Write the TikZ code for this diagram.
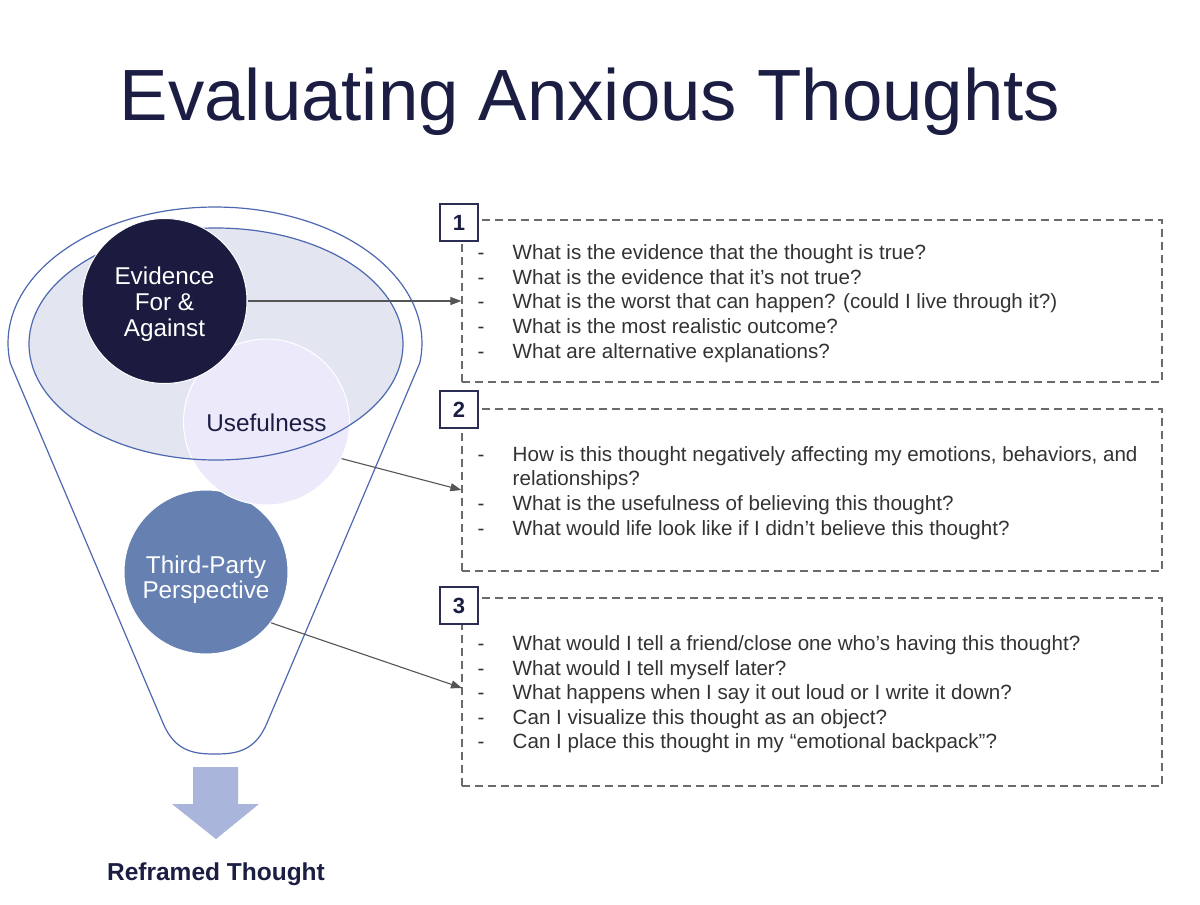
\documentclass[tikz,border=0pt]{standalone}
\usepackage{fontspec}
\setmainfont{Liberation Sans}
\usetikzlibrary{arrows.meta,calc}
\definecolor{navy}{HTML}{1B1D43}
\definecolor{evfill}{HTML}{1A1B3E}
\definecolor{ellfill}{HTML}{E3E6F1}
\definecolor{funblue}{HTML}{4D68B0}
\definecolor{usefill}{HTML}{ECE9FA}
\definecolor{tpfill}{HTML}{6580B1}
\definecolor{arrfill}{HTML}{A9B5DA}
\definecolor{qgray}{HTML}{333333}
\definecolor{congray}{HTML}{555555}
\definecolor{dashgray}{HTML}{6A6A6A}
\definecolor{numborder}{HTML}{2B2E50}
\begin{document}
\begin{tikzpicture}[x=1pt,y=-1pt,
  funnelline/.style={draw=funblue,line width=1.2pt},
  bubble/.style={circle,inner sep=0pt,draw=white,line width=1pt},
  bubbletext/.style={font=\fontsize{24.3}{26.2}\selectfont,align=center,inner sep=0pt},
  qtext/.style={font=\fontsize{20.6}{24}\selectfont,text=qgray,anchor=base west,inner sep=0pt},
  dbox/.style={draw=dashgray,line width=1.2pt,dash pattern=on 8pt off 5pt,minimum width=700pt,inner sep=0pt},
  numbox/.style={draw=numborder,fill=white,line width=1.5pt,minimum width=38pt,minimum height=37pt,inner sep=0pt,font=\bfseries\fontsize{22}{22}\selectfont,text=navy},
  connector/.style={draw=congray,line width=1.1pt,-{Triangle[length=11pt,width=8pt]}}
]
\useasboundingbox (0,0) rectangle (1200,905);
\fill[white] (0,0) rectangle (1200,905);

% title
\node[font=\fontsize{72.6}{80}\selectfont,text=navy,anchor=base,inner sep=0pt] (title) at (590,120) {Evaluating Anxious Thoughts};

% funnel outline
\draw[funnelline] plot[domain=-8.5:188.5,samples=90] ({215+207*cos(\x)},{343-136*sin(\x)})
  -- (163,723) .. controls (175,752) and (195,754) .. (215,754)
  .. controls (235,754) and (255,752) .. (267,723) -- cycle;

% inner ellipse fill
\fill[ellfill] (216,344) ellipse [x radius=187pt, y radius=116pt];

% circles
\node[bubble,fill=tpfill,minimum size=164pt] (tp) at (206,572) {};
\node[bubble,fill=usefill,minimum size=166pt] (use) at (266.5,422) {};
\draw[funnelline] (216,344) ellipse [x radius=187pt, y radius=116pt];
\node[bubble,fill=evfill,minimum size=165pt] (ev) at (164.5,301) {};

\node[bubbletext,text=white] (evt) at (164.5,304) {Evidence\\For \&\\Against};
\node[bubbletext,text=navy] (uset) at (266.5,423) {Usefulness};
\node[bubbletext,text=white,font=\fontsize{24.3}{25.3}\selectfont] (tpt) at (206,580) {Third-Party\\Perspective};

% down arrow
\fill[arrfill] (193,767) -- (238,767) -- (238,804) -- (259,804) -- (216,839) -- (172,804) -- (193,804) -- cycle;
\node[font=\bfseries\fontsize{24.5}{26}\selectfont,text=navy,anchor=base,inner sep=0pt] (reframed) at (216,880) {Reframed Thought};

% dashed boxes
\node[dbox,minimum height=162pt] (b1) at (812,301) {};
\node[dbox,minimum height=162pt] (b2) at (812,490) {};
\node[dbox,minimum height=188pt] (b3) at (812,692) {};
\coordinate (b3in) at (462,688);

\node[numbox] (n1) at (459,222.5) {1};
\node[numbox] (n2) at (459,409.5) {2};
\node[numbox] (n3) at (459,605.5) {3};

% connectors
\draw[connector] (ev.east) -- (b1.west);
\draw[connector] (use.-26) -- (b2.west);
\draw[connector] (tp.-38) -- (b3in);

% box 1 text
\node[qtext] (d11) at (477.5,259) {-};
\node[qtext] (t11) at (512.5,259) {What is the evidence that the thought is true?};
\node[qtext] (d12) at (477.5,284) {-};
\node[qtext] (t12) at (512.5,284) {What is the evidence that it’s not true?};
\node[qtext] (d13) at (477.5,308.5) {-};
\node[qtext] (t13) at (512.5,308.5) {What is the worst that can happen? (could I live through it?)};
\node[qtext] (d14) at (477.5,333) {-};
\node[qtext] (t14) at (512.5,333) {What is the most realistic outcome?};
\node[qtext] (d15) at (477.5,358) {-};
\node[qtext] (t15) at (512.5,358) {What are alternative explanations?};

% box 2 text
\node[qtext] (d21) at (477.5,461) {-};
\node[qtext] (t21) at (512.5,461) {How is this thought negatively affecting my emotions, behaviors, and};
\node[qtext] (t21b) at (512.5,485.5) {relationships?};
\node[qtext] (d22) at (477.5,510) {-};
\node[qtext] (t22) at (512.5,510) {What is the usefulness of believing this thought?};
\node[qtext] (d23) at (477.5,535) {-};
\node[qtext] (t23) at (512.5,535) {What would life look like if I didn’t believe this thought?};

% box 3 text
\node[qtext] (d31) at (477.5,650.5) {-};
\node[qtext] (t31) at (512.5,650.5) {What would I tell a friend/close one who’s having this thought?};
\node[qtext] (d32) at (477.5,675) {-};
\node[qtext] (t32) at (512.5,675) {What would I tell myself later?};
\node[qtext] (d33) at (477.5,699.5) {-};
\node[qtext] (t33) at (512.5,699.5) {What happens when I say it out loud or I write it down?};
\node[qtext] (d34) at (477.5,724) {-};
\node[qtext] (t34) at (512.5,724) {Can I visualize this thought as an object?};
\node[qtext] (d35) at (477.5,748.5) {-};
\node[qtext] (t35) at (512.5,748.5) {Can I place this thought in my “emotional backpack”?};
\end{tikzpicture}
\end{document}
